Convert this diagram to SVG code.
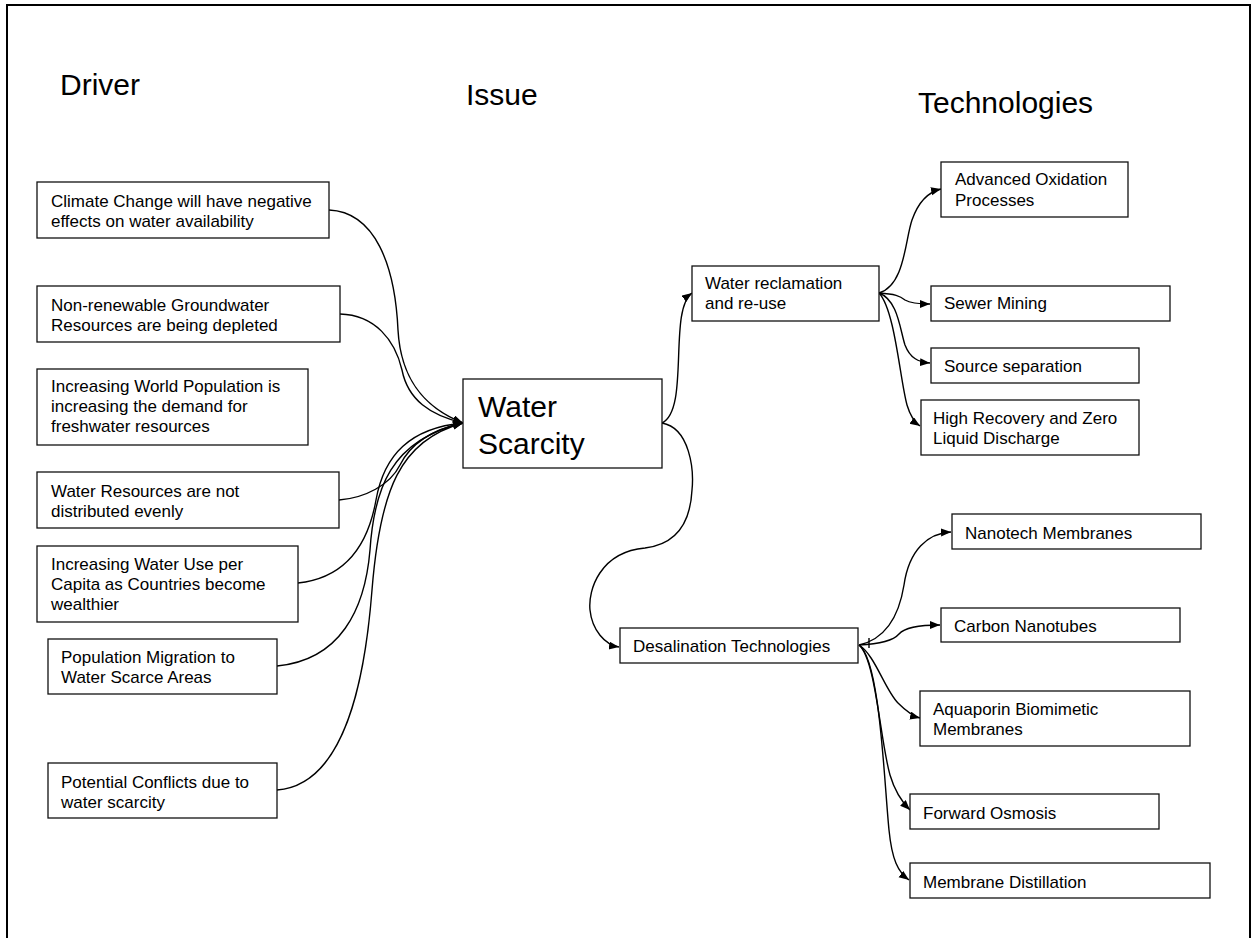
<svg xmlns="http://www.w3.org/2000/svg" width="1255" height="938" viewBox="0 0 1255 938">
<style>
.box{fill:#fff;stroke:#111;stroke-width:1.3}
.t{font-family:"Liberation Sans",Arial,sans-serif;font-size:17px;fill:#000}
.big{font-family:"Liberation Sans",Arial,sans-serif;font-size:30px;fill:#000}
.c{fill:none;stroke:#000;stroke-width:1.4;marker-end:url(#ah)}
.n{fill:none;stroke:#000;stroke-width:1.4}
</style>
<defs>
<marker id="ah" markerUnits="userSpaceOnUse" markerWidth="11" markerHeight="9" refX="10" refY="4" orient="auto">
<path d="M0,0 L10,4 L0,8 z" fill="#000"/>
</marker>
</defs>
<rect x="0" y="0" width="1255" height="938" fill="#fff"/>
<path d="M7,945 L7,5 L1250,5 L1250,945" fill="none" stroke="#000" stroke-width="2"/>
<g id="titles">
<text class="big" x="60" y="95">Driver</text>
<text class="big" x="466" y="105">Issue</text>
<text class="big" x="918" y="113">Technologies</text>
</g>
<g id="connectors">
<path class="c" d="M329,210 C375,212 395,265 398,330 C401,385 430,410 463,423"/>
<path class="c" d="M340,314 C375,315 395,340 402,370 C408,400 430,415 463,423"/>
<path class="c" d="M339,500 C365,498 390,485 400,465 C410,445 430,430 463,423"/>
<path class="c" d="M298,583 C345,578 368,545 376,500 C384,455 410,428 463,423"/>
<path class="c" d="M277,666 C340,660 365,610 370,550 C374,490 390,440 463,423"/>
<path class="c" d="M277,790 C345,785 365,680 372,590 C380,490 400,440 463,423"/>
<path class="c" d="M662,423 C690,410 668,310 692,293"/>
<path class="c" d="M662,423 C690,428 694,470 692,490 C690,530 670,545 645,548 C600,552 588,590 590,610 C592,630 605,645 619,647"/>
<path class="c" d="M879,293 C905,285 905,240 912,220 C918,203 928,192 941,189"/>
<path class="c" d="M879,293 C895,294 900,296 905,300 C910,303 918,304 930,304"/>
<path class="c" d="M879,293 C898,300 900,330 905,345 C910,358 918,362 930,363"/>
<path class="c" d="M879,293 C895,310 900,380 907,405 C910,415 914,422 920,426"/>
<path class="c" d="M859,645 C890,638 900,610 904,585 C909,550 928,533 951,532"/>
<path class="c" d="M859,645 C880,644 893,641 899,634 C905,627 920,625 940,625"/>
<path class="c" d="M859,645 C875,655 885,690 898,703 C905,710 912,716 920,718"/>
<path class="c" d="M859,645 C876,660 880,740 890,775 C895,792 902,802 910,810"/>
<path class="c" d="M859,645 C880,660 884,780 889,830 C892,860 898,872 909,880"/>
<path class="n" d="M869,638 L869,648"/>
</g>
<g id="n-climate"><rect class="box" x="37" y="182" width="292" height="56"/><text class="t" x="51" y="207">Climate Change will have negative</text><text class="t" x="51" y="227">effects on water availability</text></g>
<g id="n-groundwater"><rect class="box" x="37" y="286" width="303" height="56"/><text class="t" x="51" y="311">Non-renewable Groundwater</text><text class="t" x="51" y="331">Resources are being depleted</text></g>
<g id="n-population"><rect class="box" x="37" y="369" width="271" height="76"/><text class="t" x="51" y="392">Increasing World Population is</text><text class="t" x="51" y="412">increasing the demand for</text><text class="t" x="51" y="432">freshwater resources</text></g>
<g id="n-distribution"><rect class="box" x="37" y="472" width="302" height="56"/><text class="t" x="51" y="497">Water Resources are not</text><text class="t" x="51" y="517">distributed evenly</text></g>
<g id="n-percapita"><rect class="box" x="37" y="546" width="261" height="76"/><text class="t" x="51" y="570">Increasing Water Use per</text><text class="t" x="51" y="590">Capita as Countries become</text><text class="t" x="51" y="610">wealthier</text></g>
<g id="n-migration"><rect class="box" x="48" y="639" width="229" height="55"/><text class="t" x="61" y="663">Population Migration to</text><text class="t" x="61" y="683">Water Scarce Areas</text></g>
<g id="n-conflicts"><rect class="box" x="48" y="763" width="229" height="55"/><text class="t" x="61" y="788">Potential Conflicts due to</text><text class="t" x="61" y="808">water scarcity</text></g>
<g id="n-scarcity"><rect class="box" x="463" y="379" width="199" height="89"/><text class="big" x="478" y="417">Water</text><text class="big" x="478" y="454">Scarcity</text></g>
<g id="n-reclamation"><rect class="box" x="692" y="266" width="187" height="55"/><text class="t" x="705" y="289">Water reclamation</text><text class="t" x="705" y="309">and re-use</text></g>
<g id="n-aop"><rect class="box" x="941" y="162" width="187" height="55"/><text class="t" x="955" y="185">Advanced Oxidation</text><text class="t" x="955" y="206">Processes</text></g>
<g id="n-sewer"><rect class="box" x="931" y="286" width="239" height="35"/><text class="t" x="944" y="309">Sewer Mining</text></g>
<g id="n-source"><rect class="box" x="931" y="348" width="208" height="35"/><text class="t" x="944" y="372">Source separation</text></g>
<g id="n-zld"><rect class="box" x="921" y="400" width="218" height="55"/><text class="t" x="933" y="424">High Recovery and Zero</text><text class="t" x="933" y="444">Liquid Discharge</text></g>
<g id="n-desal"><rect class="box" x="620" y="628" width="238" height="35"/><text class="t" x="633" y="652">Desalination Technologies</text></g>
<g id="n-nanotech"><rect class="box" x="952" y="514" width="249" height="35"/><text class="t" x="965" y="539">Nanotech Membranes</text></g>
<g id="n-carbon"><rect class="box" x="941" y="608" width="239" height="34"/><text class="t" x="954" y="632">Carbon Nanotubes</text></g>
<g id="n-aquaporin"><rect class="box" x="920" y="691" width="270" height="55"/><text class="t" x="933" y="715">Aquaporin Biomimetic</text><text class="t" x="933" y="735">Membranes</text></g>
<g id="n-forward"><rect class="box" x="910" y="794" width="249" height="35"/><text class="t" x="923" y="819">Forward Osmosis</text></g>
<g id="n-distill"><rect class="box" x="910" y="863" width="300" height="35"/><text class="t" x="923" y="888">Membrane Distillation</text></g>
</svg>
